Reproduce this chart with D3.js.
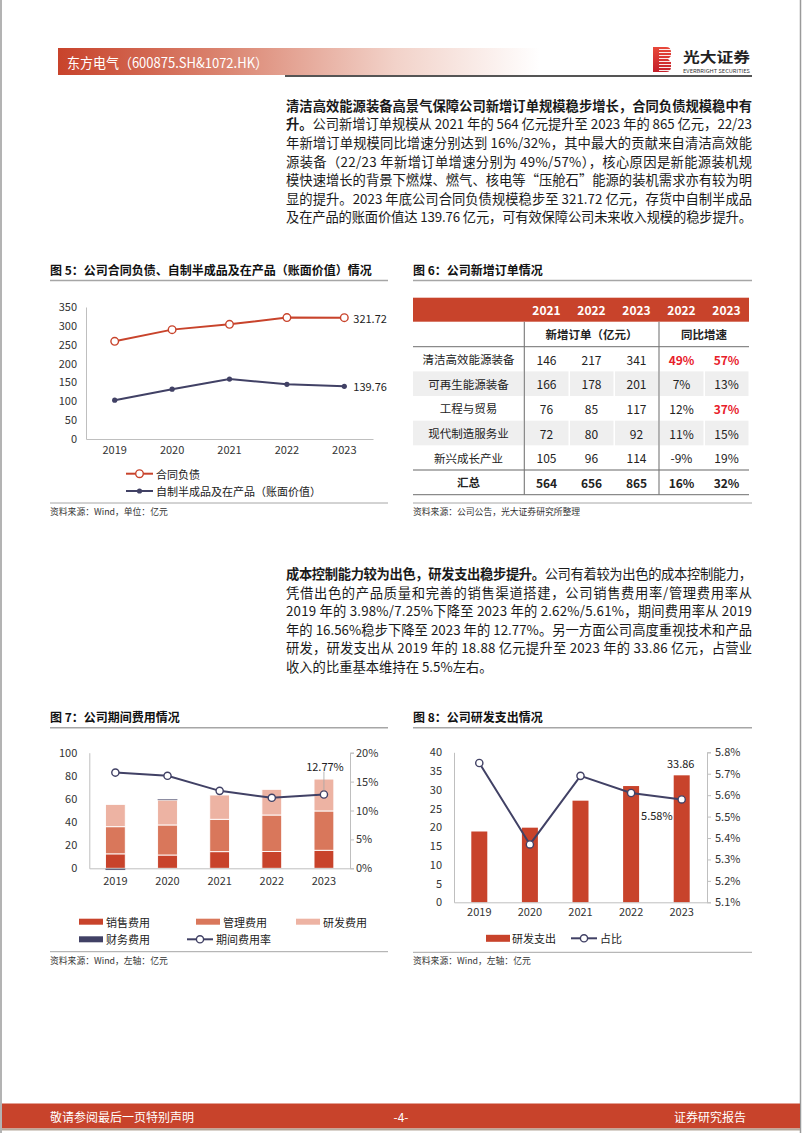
<!DOCTYPE html>
<html><head><meta charset="utf-8">
<script src="https://cdn.jsdelivr.net/npm/d3@7"></script>
<style>
html,body{margin:0;padding:0;background:#fff;}
svg{display:block;}
text{font-family:"Noto Sans CJK SC","Noto Sans",sans-serif;}
</style></head><body>
<svg id="page" width="802" height="1133"></svg>
<script>
// ===== DATA =====
const years = ["2019","2020","2021","2022","2023"];
// Fig 5
const contractLiab = [259, 290, 304, 322, 321.72];
const wipValue = [103, 132, 159, 145, 139.76];
const fig5Ticks = [0,50,100,150,200,250,300,350];
// Fig 6 table
const tableYears = ["2021","2022","2023","2022","2023"];
const segments = ["清洁高效能源装备","可再生能源装备","工程与贸易","现代制造服务业","新兴成长产业","汇总"];
const orders2021 = [146,166,76,72,105,564];
const orders2022 = [217,178,85,80,96,656];
const orders2023 = [341,201,117,92,114,865];
const growth2022 = [49,7,12,11,-9,16];
const growth2023 = [57,13,37,15,19,32];
// Fig 7
const salesExp = [12.5, 11.5, 14.4, 14.5, 15.6];
const mgmtExp = [23.5, 26.0, 28.0, 31.6, 34.0];
const rdExp = [19.3, 21.5, 21.0, 22.2, 27.6];
const finExp = [-1.5, 0.6, 0, 0, 0];
const periodRate = [16.56, 16.0, 13.4, 12.2, 12.77];
const fig7LeftTicks = [0,20,40,60,80,100];
const fig7RightTicks = [0,5,10,15,20];
// Fig 8
const rdSpend = [18.88, 19.9, 27.1, 31.0, 33.86];
const rdRatio = [5.75, 5.37, 5.69, 5.61, 5.58];
const fig8LeftTicks = [0,5,10,15,20,25,30,35,40];
const fig8RightTicks = [5.1,5.2,5.3,5.4,5.5,5.6,5.7,5.8];

// Paragraph text
const para1 = [
  [["清洁高效能源装备高景气保障公司新增订单规模稳步增长，合同负债规模稳中有",1]],
  [["升。",1],["公司新增订单规模从 2021 年的 564 亿元提升至 2023 年的 865 亿元，22/23",0]],
  [["年新增订单规模同比增速分别达到 16%/32%，其中最大的贡献来自清洁高效能",0]],
  [["源装备（22/23 年新增订单增速分别为 49%/57%），核心原因是新能源装机规",0]],
  [["模快速增长的背景下燃煤、燃气、核电等“压舱石”能源的装机需求亦有较为明",0]],
  [["显的提升。2023 年底公司合同负债规模稳步至 321.72 亿元，存货中自制半成品",0]],
  [["及在产品的账面价值达 139.76 亿元，可有效保障公司未来收入规模的稳步提升。",0]]
];
const para2 = [
  [["成本控制能力较为出色，研发支出稳步提升。",1],["公司有着较为出色的成本控制能力，",0]],
  [["凭借出色的产品质量和完善的销售渠道搭建，公司销售费用率/管理费用率从",0]],
  [["2019 年的 3.98%/7.25%下降至 2023 年的 2.62%/5.61%，期间费用率从 2019",0]],
  [["年的 16.56%稳步下降至 2023 年的 12.77%。另一方面公司高度重视技术和产品",0]],
  [["研发，研发支出从 2019 年的 18.88 亿元提升至 2023 年的 33.86 亿元，占营业",0]],
  [["收入的比重基本维持在 5.5%左右。",0]]
];

// ===== STYLE =====
const RED = "#C8432B", RED_MID = "#D9775B", RED_LIGHT = "#EDB3A3", NAVY = "#414165";
const svg = d3.select("#page");
const defs = svg.append("defs");

// page frame
svg.append("line").attr("x1",1).attr("x2",1).attr("y1",0).attr("y2",1133).attr("stroke","#9a9a9a").attr("stroke-width",1.5);
svg.append("line").attr("x1",800.5).attr("x2",800.5).attr("y1",0).attr("y2",1133).attr("stroke","#9a9a9a").attr("stroke-width",1.5);

// ===== HEADER =====
const hg = defs.append("linearGradient").attr("id","hdr").attr("gradientUnits","userSpaceOnUse")
  .attr("x1",58).attr("x2",540).attr("y1",0).attr("y2",0);
hg.append("stop").attr("offset","0%").attr("stop-color","#C8432B");
hg.append("stop").attr("offset","35%").attr("stop-color","#DB8672");
hg.append("stop").attr("offset","70%").attr("stop-color","#F2D2C9");
hg.append("stop").attr("offset","100%").attr("stop-color","#FFFFFF");
svg.append("rect").attr("x",58).attr("y",48).attr("width",482).attr("height",27).attr("fill","url(#hdr)");
svg.append("text").attr("x",67).attr("y",62).attr("dominant-baseline","central")
  .attr("fill","#fff").attr("font-size",14).attr("textLength",201).attr("lengthAdjust","spacingAndGlyphs")
  .text("东方电气（600875.SH&1072.HK）");
svg.append("line").attr("x1",285).attr("x2",752).attr("y1",76).attr("y2",76).attr("stroke","#555").attr("stroke-width",2);
// logo
const lg = defs.append("linearGradient").attr("id","logo").attr("x1",0).attr("x2",0).attr("y1",0).attr("y2",1);
lg.append("stop").attr("offset","0%").attr("stop-color","#E8483A");
lg.append("stop").attr("offset","100%").attr("stop-color","#C41F2A");
svg.append("path").attr("d","M653,47 H666 Q671,47 671,52 V56 L668,59 L671,62 V67 Q671,72 666,72 H653 Z").attr("fill","url(#logo)");
for (let i=0;i<8;i++){
  svg.append("line").attr("x1",659).attr("x2",672).attr("y1",49.5+i*3).attr("y2",49.5+i*3).attr("stroke","#fff").attr("stroke-width",0.9);
}
svg.append("text").attr("x",683).attr("y",55.5).attr("dominant-baseline","central").attr("font-size",14).attr("font-weight","bold")
  .attr("fill","#222").attr("textLength",67).attr("lengthAdjust","spacingAndGlyphs").text("光大证券");
svg.append("text").attr("x",683).attr("y",70).attr("dominant-baseline","central").attr("font-size",5).attr("fill","#333")
  .attr("textLength",67).attr("lengthAdjust","spacingAndGlyphs").text("EVERBRIGHT SECURITIES");

// ===== PARAGRAPHS =====
function drawPara(lines, y0, step, fullLast){
  lines.forEach((segs,i)=>{
    const t = svg.append("text").attr("x",286).attr("y",y0+i*step).attr("dominant-baseline","central")
      .attr("font-size",13.3).attr("fill","#1a1a1a");
    if (i < lines.length-1 || fullLast) t.attr("textLength",466).attr("lengthAdjust","spacing");
    segs.forEach(s=>t.append("tspan").attr("font-weight",s[1]?"bold":"normal").text(s[0]));
  });
}
drawPara(para1, 104.7, 18.6, true);
drawPara(para2, 573, 18.5, false);

// ===== common helpers =====
function chartTitle(x, y, x2, txt){
  svg.append("text").attr("x",x).attr("y",y).attr("dominant-baseline","central").attr("font-size",12).attr("font-weight","bold").attr("fill","#111").text(txt);
  svg.append("line").attr("x1",x).attr("x2",x2).attr("y1",y+11).attr("y2",y+11).attr("stroke","#a6a6a6").attr("stroke-width",1.5);
}
function source(x, y, x2, txt){
  svg.append("line").attr("x1",x).attr("x2",x2).attr("y1",y).attr("y2",y).attr("stroke","#a6a6a6").attr("stroke-width",1);
  svg.append("text").attr("x",x).attr("y",y+8.5).attr("dominant-baseline","central").attr("font-size",8.8).attr("fill","#333").text(txt);
}
function styleAxis(g, font, size){
  g.selectAll("path.domain").attr("stroke","#bfbfbf").attr("stroke-width",1);
  g.selectAll(".tick line").attr("stroke","#bfbfbf");
  g.selectAll("text").attr("font-family",font).attr("font-size",size).attr("fill","#333");
}

// ===== FIG 5 =====
chartTitle(50, 269.5, 388, "图 5：公司合同负债、自制半成品及在产品（账面价值）情况");
const x5 = d3.scaleBand().domain(years).range([86,373]);
const y5 = d3.scaleLinear().domain([0,350]).range([439,307]);
const cx5 = d => x5(d)+x5.bandwidth()/2;
const ax5 = svg.append("g").attr("transform","translate(86,0)").call(d3.axisLeft(y5).tickValues(fig5Ticks).tickSize(0).tickPadding(9));
styleAxis(ax5, "Noto Sans CJK SC", 11);
const bx5 = svg.append("g").attr("transform","translate(0,439)").call(d3.axisBottom(x5).tickSize(0).tickPadding(7));
styleAxis(bx5, "Noto Sans CJK SC", 11);
const line5a = d3.line().x((d,i)=>cx5(years[i])).y(d=>y5(d));
svg.append("path").attr("d",line5a(contractLiab)).attr("fill","none").attr("stroke",RED).attr("stroke-width",2);
svg.append("path").attr("d",line5a(wipValue)).attr("fill","none").attr("stroke",NAVY).attr("stroke-width",2);
svg.selectAll(null).data(contractLiab).enter().append("circle").attr("cx",(d,i)=>cx5(years[i])).attr("cy",d=>y5(d)).attr("r",3.8)
  .attr("fill","#fff").attr("stroke",RED).attr("stroke-width",1.4);
svg.selectAll(null).data(wipValue).enter().append("circle").attr("cx",(d,i)=>cx5(years[i])).attr("cy",d=>y5(d)).attr("r",2.6).attr("fill",NAVY);
svg.append("text").attr("x",cx5("2023")+9).attr("y",y5(contractLiab[4])).attr("dominant-baseline","central").attr("font-size",11).attr("fill","#222").text(contractLiab[4].toFixed(2));
svg.append("text").attr("x",cx5("2023")+9).attr("y",y5(wipValue[4])).attr("dominant-baseline","central").attr("font-size",11).attr("fill","#222").text(wipValue[4].toFixed(2));
// legend
[[473.7,RED,"合同负债",true],[491,NAVY,"自制半成品及在产品（账面价值）",false]].forEach(([y,c,t,open])=>{
  svg.append("line").attr("x1",126).attr("x2",153).attr("y1",y).attr("y2",y).attr("stroke",c).attr("stroke-width",2);
  if (open) svg.append("circle").attr("cx",139.5).attr("cy",y).attr("r",3.8).attr("fill","#fff").attr("stroke",c).attr("stroke-width",1.4);
  else svg.append("circle").attr("cx",139.5).attr("cy",y).attr("r",2.6).attr("fill",c);
  svg.append("text").attr("x",156).attr("y",y).attr("dominant-baseline","central").attr("font-size",11).attr("fill","#222").text(t);
});
source(50, 503, 388, "资料来源：Wind，单位：亿元");

// ===== FIG 6 TABLE =====
chartTitle(413, 269.5, 752, "图 6：公司新增订单情况");
const colX = d3.scaleBand().domain(d3.range(5)).range([524,749]);
const rowH = 24.66, row0 = 346.7;
svg.append("rect").attr("x",413).attr("y",297.7).attr("width",336).attr("height",24).attr("fill",RED);
tableYears.forEach((t,i)=>{
  svg.append("text").attr("x",colX(i)+colX.bandwidth()/2).attr("y",309.7).attr("text-anchor","middle").attr("dominant-baseline","central")
    .attr("font-size",12).attr("font-weight","bold").attr("fill","#fff").text(t);
});
svg.append("text").attr("x",591.5).attr("y",334.2).attr("text-anchor","middle").attr("dominant-baseline","central").attr("font-size",11.5).attr("font-weight","bold").attr("fill","#222").text("新增订单（亿元）");
svg.append("text").attr("x",704).attr("y",334.2).attr("text-anchor","middle").attr("dominant-baseline","central").attr("font-size",11.5).attr("font-weight","bold").attr("fill","#222").text("同比增速");
const cols = [orders2021, orders2022, orders2023, growth2022, growth2023];
segments.forEach((s,r)=>{
  const y = row0 + r*rowH;
  const isTotal = r === segments.length-1;
  if (r % 2 === 1 && !isTotal){
    svg.append("rect").attr("x",413).attr("y",y).attr("width",110.5).attr("height",rowH).attr("fill","#efefef");
    d3.range(5).forEach(c=>svg.append("rect").attr("x",colX(c)+1).attr("y",y).attr("width",colX.bandwidth()-1.5).attr("height",rowH).attr("fill","#efefef"));
  }
  svg.append("text").attr("x",468.5).attr("y",y+rowH/2).attr("text-anchor","middle").attr("dominant-baseline","central")
    .attr("font-size",11.5).attr("font-weight",isTotal?"bold":"normal").attr("fill","#222").text(s);
  cols.forEach((col,c)=>{
    const v = col[r];
    const pct = c >= 3;
    const hi = pct && !isTotal && v > 30;
    svg.append("text").attr("x",colX(c)+colX.bandwidth()/2).attr("y",y+rowH/2).attr("text-anchor","middle").attr("dominant-baseline","central")
      .attr("font-size",12).attr("font-weight",(isTotal||hi)?"bold":"normal").attr("fill",hi?"#E8202A":"#222").text(pct? v+"%" : v);
  });
});
svg.append("line").attr("x1",413).attr("x2",749).attr("y1",346.7).attr("y2",346.7).attr("stroke","#8a8a8a").attr("stroke-width",1.2);
svg.append("line").attr("x1",413).attr("x2",749).attr("y1",row0+5*rowH).attr("y2",row0+5*rowH).attr("stroke","#666").attr("stroke-width",1.2);
svg.append("line").attr("x1",413).attr("x2",749).attr("y1",row0+6*rowH).attr("y2",row0+6*rowH).attr("stroke","#8a8a8a").attr("stroke-width",1.2);
[524.3, 659].forEach(x=>svg.append("line").attr("x1",x).attr("x2",x).attr("y1",321.7).attr("y2",row0+6*rowH).attr("stroke","#777").attr("stroke-width",1.1));
source(413, 503, 752, "资料来源：公司公告，光大证券研究所整理");

// ===== FIG 7 =====
chartTitle(50, 716.7, 388, "图 7：公司期间费用情况");
const x7 = d3.scaleBand().domain(years).range([89.3,350]).paddingInner(0.62).paddingOuter(0.31);
const yL7 = d3.scaleLinear().domain([0,100]).range([868.3,752.7]);
const yR7 = d3.scaleLinear().domain([0,20]).range([868.3,752.7]);
const stackData = years.map((y,i)=>({year:y, sales:salesExp[i], mgmt:mgmtExp[i], rd:rdExp[i], fin:finExp[i]}));
const keys7 = ["sales","mgmt","rd","fin"];
const colors7 = {sales:RED, mgmt:RED_MID, rd:RED_LIGHT, fin:NAVY};
const stacked = d3.stack().keys(keys7).offset(d3.stackOffsetDiverging)(stackData);
stacked.forEach(layer=>{
  svg.append("g").selectAll("rect").data(layer).enter().append("rect")
    .attr("x",d=>x7(d.data.year)).attr("width",x7.bandwidth())
    .attr("y",d=>yL7(Math.max(d[0],d[1]))).attr("height",d=>Math.abs(yL7(d[0])-yL7(d[1])))
    .attr("fill",colors7[layer.key]).attr("stroke",layer.key==="fin"?"none":"#fff").attr("stroke-width",0.9);
});
const axL7 = svg.append("g").attr("transform","translate(89.3,0)").call(d3.axisLeft(yL7).tickValues(fig7LeftTicks).tickSize(0).tickPadding(12));
styleAxis(axL7, "Liberation Sans", 11);
const axR7 = svg.append("g").attr("transform","translate(350,0)").call(d3.axisRight(yR7).tickValues(fig7RightTicks).tickSize(4).tickPadding(2).tickFormat(d=>d+"%"));
styleAxis(axR7, "Liberation Sans", 11);
const bx7 = svg.append("g").attr("transform","translate(0,868.3)").call(d3.axisBottom(x7).tickSize(0).tickPadding(9));
styleAxis(bx7, "Liberation Sans", 11);
const cx7 = d => x7(d)+x7.bandwidth()/2;
const line7 = d3.line().x((d,i)=>cx7(years[i])).y(d=>yR7(d));
svg.append("path").attr("d",line7(periodRate)).attr("fill","none").attr("stroke",NAVY).attr("stroke-width",2);
svg.selectAll(null).data(periodRate).enter().append("circle").attr("cx",(d,i)=>cx7(years[i])).attr("cy",d=>yR7(d)).attr("r",3.6)
  .attr("fill","#fff").attr("stroke",NAVY).attr("stroke-width",1.4);
svg.append("line").attr("x1",cx7("2023")).attr("x2",cx7("2023")).attr("y1",771.5).attr("y2",yR7(periodRate[4])-4).attr("stroke","#a6a6a6").attr("stroke-width",0.8);
svg.append("text").attr("x",cx7("2023")+1).attr("y",765.5).attr("text-anchor","middle").attr("dominant-baseline","central").attr("font-family","Liberation Sans").attr("font-size",11).attr("fill","#222").text(periodRate[4].toFixed(2)+"%");
// legend
[[79,921.7,RED,"销售费用"],[196,921.7,RED_MID,"管理费用"],[296,921.7,RED_LIGHT,"研发费用"],[79,939.3,NAVY,"财务费用"]].forEach(([x,y,c,t])=>{
  svg.append("rect").attr("x",x).attr("y",y-3).attr("width",24).attr("height",6).attr("fill",c);
  svg.append("text").attr("x",x+27).attr("y",y).attr("dominant-baseline","central").attr("font-size",11).attr("fill","#222").text(t);
});
svg.append("line").attr("x1",187).attr("x2",213).attr("y1",939.3).attr("y2",939.3).attr("stroke",NAVY).attr("stroke-width",2);
svg.append("circle").attr("cx",200).attr("cy",939.3).attr("r",3.6).attr("fill","#fff").attr("stroke",NAVY).attr("stroke-width",1.4);
svg.append("text").attr("x",216).attr("y",939.3).attr("dominant-baseline","central").attr("font-size",11).attr("fill","#222").text("期间费用率");
source(50, 951.7, 388, "资料来源：Wind，左轴：亿元");

// ===== FIG 8 =====
chartTitle(413, 716.7, 752, "图 8：公司研发支出情况");
const x8 = d3.scaleBand().domain(years).range([454,707]).paddingInner(0.684).paddingOuter(0.342);
const yL8 = d3.scaleLinear().domain([0,40]).range([902.3,752.3]);
const yR8 = d3.scaleLinear().domain([5.1,5.8]).range([902.3,752.3]);
svg.append("g").selectAll("rect").data(rdSpend).enter().append("rect")
  .attr("x",(d,i)=>x8(years[i])).attr("width",x8.bandwidth()).attr("y",d=>yL8(d)).attr("height",d=>yL8(0)-yL8(d)).attr("fill",RED);
const axL8 = svg.append("g").attr("transform","translate(454,0)").call(d3.axisLeft(yL8).tickValues(fig8LeftTicks).tickSize(0).tickPadding(12));
styleAxis(axL8, "Liberation Sans", 11);
const axR8 = svg.append("g").attr("transform","translate(707,0)").call(d3.axisRight(yR8).tickValues(fig8RightTicks).tickSize(4).tickPadding(4).tickFormat(d=>d.toFixed(1)+"%"));
styleAxis(axR8, "Liberation Sans", 11);
const bx8 = svg.append("g").attr("transform","translate(0,902.3)").call(d3.axisBottom(x8).tickSize(0).tickPadding(6));
styleAxis(bx8, "Liberation Sans", 11);
const cx8 = d => x8(d)+x8.bandwidth()/2;
const line8 = d3.line().x((d,i)=>cx8(years[i])).y(d=>yR8(d));
svg.append("path").attr("d",line8(rdRatio)).attr("fill","none").attr("stroke",NAVY).attr("stroke-width",2);
svg.selectAll(null).data(rdRatio).enter().append("circle").attr("cx",(d,i)=>cx8(years[i])).attr("cy",d=>yR8(d)).attr("r",3.6)
  .attr("fill","#fff").attr("stroke",NAVY).attr("stroke-width",1.4);
svg.append("text").attr("x",cx8("2023")-1).attr("y",762.7).attr("text-anchor","middle").attr("dominant-baseline","central").attr("font-family","Liberation Sans").attr("font-size",11).attr("fill","#222").text(rdSpend[4].toFixed(2));
svg.append("text").attr("x",cx8("2022")+25.7).attr("y",815).attr("text-anchor","middle").attr("dominant-baseline","central").attr("font-family","Liberation Sans").attr("font-size",11).attr("fill","#222").text(rdRatio[4].toFixed(2)+"%");
// legend
svg.append("rect").attr("x",486).attr("y",938.3-3.5).attr("width",24).attr("height",7).attr("fill",RED);
svg.append("text").attr("x",512).attr("y",938.3).attr("dominant-baseline","central").attr("font-size",11).attr("fill","#222").text("研发支出");
svg.append("line").attr("x1",571).attr("x2",597).attr("y1",938.3).attr("y2",938.3).attr("stroke",NAVY).attr("stroke-width",2);
svg.append("circle").attr("cx",584).attr("cy",938.3).attr("r",3.6).attr("fill","#fff").attr("stroke",NAVY).attr("stroke-width",1.4);
svg.append("text").attr("x",600).attr("y",938.3).attr("dominant-baseline","central").attr("font-size",11).attr("fill","#222").text("占比");
source(413, 952.3, 752, "资料来源：Wind，左轴：亿元");

// ===== FOOTER =====
svg.append("rect").attr("x",2).attr("y",1103.5).attr("width",798).attr("height",25).attr("fill",RED);
svg.append("rect").attr("x",2).attr("y",1128.5).attr("width",798).attr("height",2).attr("fill","#b5a89a");
svg.append("text").attr("x",50).attr("y",1116.5).attr("dominant-baseline","central").attr("font-size",12).attr("fill","#fff").text("敬请参阅最后一页特别声明");
svg.append("text").attr("x",401).attr("y",1116.5).attr("text-anchor","middle").attr("dominant-baseline","central").attr("font-size",12).attr("fill","#fff").text("-4-");
svg.append("text").attr("x",746).attr("y",1116.5).attr("text-anchor","end").attr("dominant-baseline","central").attr("font-size",12).attr("fill","#fff").text("证券研究报告");
</script>
</body></html>
